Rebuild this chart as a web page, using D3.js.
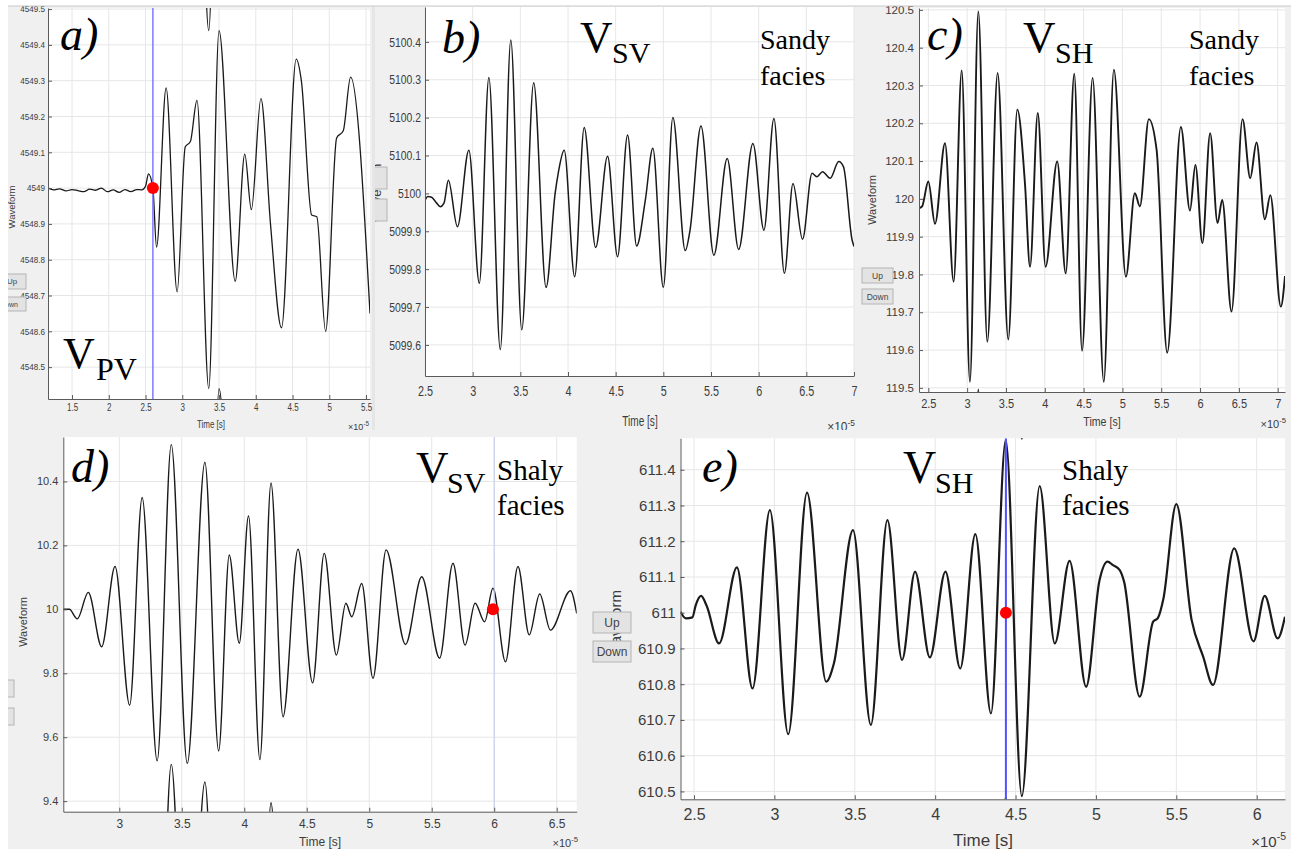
<!DOCTYPE html>
<html><head><meta charset="utf-8">
<script src="https://cdn.jsdelivr.net/npm/d3@7"></script>
<style>body{margin:0;background:#fff}svg{display:block}</style>
</head><body>
<script>
// ---------------- DATA ----------------
// panel a) V_PV
const timeA = [1.173,1.25,1.33,1.42,1.5,1.58,1.66,1.74,1.82,1.9,1.98,2.06,2.14,2.22,2.3,2.38,2.45,2.5,2.54,2.6,2.65,2.78,2.93,3.04,3.11,3.2,3.36,3.5,3.72,3.85,3.94,4.07,4.2,4.35,4.55,4.62,4.76,4.83,4.95,5.1,5.19,5.29,5.554];
const waveA = [4549.0,4548.995,4548.998,4548.992,4548.996,4548.993,4548.99,4548.997,4548.994,4549.0,4548.99,4548.995,4548.988,4548.996,4548.99,4548.996,4548.995,4549.005,4549.04,4549.0,4548.835,4549.28,4548.71,4549.115,4549.13,4549.245,4548.44,4549.44,4548.74,4549.095,4548.94,4549.25,4548.9,4548.61,4549.36,4549.3,4548.925,4548.92,4548.6,4549.14,4549.16,4549.31,4548.65];
const xTicksA = [1.5,2,2.5,3,3.5,4,4.5,5,5.5];
const yTicksA = [4548.5,4548.6,4548.7,4548.8,4548.9,4549,4549.1,4549.2,4549.3,4549.4,4549.5];
const xDomA = [1.173,5.554], yDomA = [4548.411,4549.503];
const cursorA = 2.6, markerA = [2.6,4549.0];
const ghostA = [-1, 1];

// panel b) V_SV sandy
const timeB = [2.5,2.53,2.57,2.62,2.66,2.7,2.745,2.84,2.96,3.07,3.17,3.29,3.40,3.515,3.64,3.77,3.865,3.9,3.96,4.07,4.17,4.29,4.415,4.52,4.625,4.72,4.81,4.89,5.0,5.1,5.23,5.28,5.395,5.53,5.67,5.79,5.94,6.055,6.16,6.27,6.36,6.46,6.56,6.61,6.67,6.75,6.84,6.89,6.98,7.0];
const waveB = [5099.982,5099.992,5099.99,5099.975,5099.965,5099.975,5100.035,5099.912,5100.114,5099.763,5100.306,5099.588,5100.405,5099.64,5100.292,5099.752,5100.0,5100.057,5100.114,5099.78,5100.174,5099.857,5100.098,5099.833,5100.154,5099.861,5099.98,5100.119,5099.752,5100.2,5099.849,5099.903,5100.178,5099.837,5100.092,5099.852,5100.132,5099.903,5100.198,5099.789,5100.026,5099.879,5100.053,5100.044,5100.057,5100.04,5100.084,5100.07,5099.877,5099.86];
const xTicksB = [2.5,3,3.5,4,4.5,5,5.5,6,6.5,7];
const yTicksB = [5099.6,5099.7,5099.8,5099.9,5100,5100.1,5100.2,5100.3,5100.4];
const xDomB = [2.5,7.0], yDomB = [5099.518,5100.492];
const ghostB = [];

// panel c) V_SH sandy
const timeC = [2.38,2.42,2.5,2.586,2.715,2.826,2.93,3.036,3.144,3.26,3.393,3.53,3.646,3.745,3.81,3.91,4.01,4.16,4.27,4.38,4.48,4.616,4.76,4.89,5.045,5.16,5.225,5.34,5.44,5.577,5.753,5.87,5.94,6.03,6.13,6.225,6.285,6.405,6.547,6.646,6.727,6.835,6.905,7.04,7.094];
const waveC = [119.975,119.98,120.046,119.934,120.147,119.781,120.34,119.516,120.496,119.622,120.333,119.628,120.236,120.04,119.82,120.227,119.82,120.099,119.803,120.331,119.598,120.32,119.516,120.342,119.794,120.015,119.98,120.211,120.13,119.593,120.19,119.969,120.09,119.883,120.174,119.936,119.997,119.702,120.211,120.055,120.149,119.946,120.01,119.715,119.796];
const xTicksC = [2.5,3,3.5,4,4.5,5,5.5,6,6.5,7];
const yTicksC = [119.5,119.6,119.7,119.8,119.9,120,120.1,120.2,120.3,120.4,120.5];
const xDomC = [2.38,7.094], yDomC = [119.489,120.505];
const ghostC = [-1, 1];

// panel d) V_SV shaly
const timeD = [2.552,2.6,2.664,2.752,2.859,2.966,3.083,3.183,3.303,3.416,3.544,3.685,3.795,3.88,3.96,4.034,4.125,4.214,4.31,4.43,4.547,4.64,4.737,4.813,4.86,4.94,5.03,5.135,5.29,5.42,5.563,5.67,5.767,5.847,5.923,5.99,6.09,6.19,6.28,6.364,6.45,6.61,6.66];
const waveD = [10.0,10.0,9.97,10.053,9.883,10.134,9.70,10.35,9.526,10.515,9.518,10.46,9.557,10.17,9.894,10.292,9.53,10.395,9.664,10.188,9.77,10.175,9.857,10.019,9.977,10.081,9.784,10.186,9.89,10.102,9.847,10.144,9.888,10.019,9.961,10.066,9.836,10.134,9.92,10.048,9.935,10.058,9.987];
const xTicksD = [3,3.5,4,4.5,5,5.5,6,6.5];
const yTicksD = [9.4,9.6,9.8,10,10.2,10.4];
const xDomD = [2.552,6.66], yDomD = [9.367,10.539];
const cursorD = 6.0, markerD = [5.99,10.0];
const ghostD = [-1];

// panel e) V_SH shaly
const timeE = [2.416,2.45,2.49,2.51,2.544,2.578,2.656,2.767,2.864,2.972,3.086,3.203,3.322,3.37,3.489,3.6,3.703,3.794,3.875,3.967,4.064,4.156,4.25,4.347,4.439,4.539,4.65,4.744,4.836,4.939,5.022,5.072,5.106,5.147,5.175,5.272,5.356,5.385,5.42,5.5,5.595,5.667,5.728,5.86,5.98,6.05,6.13,6.176];
const waveE = [611.003,610.984,610.987,611.02,611.047,611.02,610.914,611.127,610.788,611.287,610.66,611.336,610.807,610.858,611.231,610.686,611.259,610.868,611.115,610.875,611.115,610.844,611.22,610.718,611.483,610.487,611.354,610.914,611.145,610.793,611.09,611.143,611.133,611.12,611.087,610.765,610.975,610.985,611.04,611.304,610.98,610.877,610.798,611.18,610.92,611.047,610.928,610.989];
const xTicksE = [2.5,3,3.5,4,4.5,5,5.5,6];
const yTicksE = [610.5,610.6,610.7,610.8,610.9,611,611.1,611.2,611.3,611.4];
const xDomE = [2.416,6.176], yDomE = [610.478,611.488];
const cursorE = 4.44, markerE = [4.44,611.0];
const ghostE = [-1, 1];

// ---------------- DRAWING ----------------
const W = 1291, H = 849;
const svg = d3.select('body').append('svg').attr('width', W).attr('height', H);
svg.append('rect').attr('width', W).attr('height', H).attr('fill', '#fff');
const defs = svg.append('defs');
const SANS = 'Liberation Sans, Arial, sans-serif';
const SERIF = 'Liberation Serif, Times New Roman, serif';
const fmt = d => String(+(+d).toFixed(2));

function drawPanel(id, times, vals, xt, yt, xDom, yDom, ghosts, lay, st) {
  const g = svg.append('g');
  defs.append('clipPath').attr('id', 'bg' + id).append('rect')
    .attr('x', lay.bg[0]).attr('y', lay.bg[1]).attr('width', lay.bg[2]).attr('height', lay.bg[3]);
  const root = g.append('g').attr('clip-path', `url(#bg${id})`);
  root.append('rect').attr('x', lay.bg[0]).attr('y', lay.bg[1]).attr('width', lay.bg[2]).attr('height', lay.bg[3]).attr('fill', '#f0f0f0');
  if (lay.band) root.append('rect').attr('x', lay.band[0]).attr('y', lay.bg[1]).attr('width', lay.band[1]).attr('height', lay.bg[3]).attr('fill', '#e6e6e6');
  const x = d3.scaleLinear().domain(xDom).range([lay.L, lay.R]);
  const y = d3.scaleLinear().domain(yDom).range([lay.B, lay.T]);
  root.append('rect').attr('x', lay.L).attr('y', lay.T).attr('width', lay.R - lay.L).attr('height', lay.B - lay.T).attr('fill', '#fff');
  const grid = root.append('g').attr('stroke', '#e6e6e6').attr('stroke-width', 1);
  xt.filter(t => t >= xDom[0] && t <= xDom[1]).forEach(t => grid.append('line').attr('x1', x(t)).attr('x2', x(t)).attr('y1', lay.T).attr('y2', lay.B));
  yt.filter(v => v >= yDom[0] && v <= yDom[1]).forEach(v => grid.append('line').attr('y1', y(v)).attr('y2', y(v)).attr('x1', lay.L).attr('x2', lay.R));
  defs.append('clipPath').attr('id', 'pl' + id).append('rect')
    .attr('x', lay.L).attr('y', lay.T).attr('width', lay.R - lay.L).attr('height', lay.B - lay.T);
  const plot = root.append('g').attr('clip-path', `url(#pl${id})`);
  const pts = times.map((t, i) => [t, vals[i]]);
  const line = d3.line().x(d => x(d[0])).y(d => y(d[1])).curve(d3.curveMonotoneX);
  ghosts.forEach(o => {
    plot.append('path').attr('d', line(pts.map(p => [p[0], p[1] + o])))
      .attr('fill', 'none').attr('stroke', '#1a1a1a').attr('stroke-width', st.lw);
  });
  plot.append('path').attr('d', line(pts)).attr('fill', 'none').attr('stroke', '#1a1a1a')
    .attr('stroke-width', st.lw).attr('stroke-linejoin', 'round');
  if (st.cursor !== undefined) {
    plot.append('line').attr('x1', x(st.cursor)).attr('x2', x(st.cursor)).attr('y1', lay.T).attr('y2', lay.B)
      .attr('stroke', st.cursorColor).attr('stroke-width', st.cursorW);
  }
  if (st.marker) {
    root.append('circle').attr('cx', x(st.marker[0])).attr('cy', y(st.marker[1])).attr('r', 6).attr('fill', '#ff0000');
  }
  const ax = d3.axisBottom(x).tickValues(xt.filter(t => t >= xDom[0] - 1e-9 && t <= xDom[1] + 1e-9))
    .tickSizeInner(-4).tickSizeOuter(0).tickPadding(st.xPad).tickFormat(fmt);
  root.append('g').attr('transform', `translate(0,${lay.B})`).call(ax).call(s => {
    s.select('.domain').attr('stroke', '#5a5a5a');
    s.selectAll('.tick line').attr('stroke', '#5a5a5a');
    s.selectAll('text').attr('font-size', st.xFont).attr('font-family', SANS).attr('fill', '#3c3c3c')
      .attr('transform', `scale(${st.xSx},1)`);
  });
  const ay = d3.axisLeft(y).tickValues(yt).tickSizeInner(-4).tickSizeOuter(0)
    .tickPadding(st.yPad / st.ySx).tickFormat(fmt);
  root.append('g').attr('transform', `translate(${lay.L},0)`).call(ay).call(s => {
    s.select('.domain').attr('stroke', '#5a5a5a');
    s.selectAll('.tick line').attr('stroke', '#5a5a5a');
    s.selectAll('text').attr('font-size', st.yFont).attr('font-family', SANS).attr('fill', '#3c3c3c')
      .attr('transform', `scale(${st.ySx},1)`);
  });
  root.append('text').attr('x', lay.tx[0]).attr('y', lay.tx[1]).attr('text-anchor', 'middle')
    .attr('font-family', SANS).attr('font-size', st.tFont).attr('fill', '#3c3c3c')
    .attr('transform', `translate(${lay.tx[0]},0) scale(${st.xSx},1) translate(${-lay.tx[0]},0)`)
    .text('Time [s]');
  const ex = root.append('text').attr('x', lay.ex[0]).attr('y', lay.ex[1]).attr('text-anchor', 'end')
    .attr('font-family', SANS).attr('font-size', st.eFont).attr('fill', '#3c3c3c');
  ex.append('tspan').text('×10');
  ex.append('tspan').attr('dy', -st.eFont * 0.45).attr('font-size', st.eFont * 0.7).text('-5');
  root.append('text').attr('transform', `translate(${lay.wl[0]},${lay.wl[1]}) rotate(-90)`)
    .attr('text-anchor', 'middle').attr('font-family', SANS).attr('font-size', st.wFont).attr('fill', '#3c3c3c')
    .text('Waveform');
  return root;
}

function button(g, x0, y0, w, h, txt, fs, tx) {
  g.append('rect').attr('x', x0).attr('y', y0).attr('width', w).attr('height', h)
    .attr('fill', '#e3e3e3').attr('stroke', '#b4b4b4').attr('stroke-width', 1);
  if (txt) g.append('text').attr('x', tx !== undefined ? tx : x0 + w / 2).attr('y', y0 + h / 2 + fs * 0.36)
    .attr('text-anchor', 'middle').attr('font-family', SANS).attr('font-size', fs).attr('fill', '#444').text(txt);
}
function serif(g, txt, x, y, fs, italic) {
  g.append('text').attr('x', x).attr('y', y).attr('font-family', SERIF).attr('font-size', fs)
    .attr('font-style', italic ? 'italic' : 'normal').attr('fill', '#000').text(txt);
}

// a)
const gA = drawPanel('A', timeA, waveA, xTicksA, yTicksA, xDomA, yDomA, ghostA,
  {bg: [8, 6, 367, 424], band: [372, 3], L: 48, R: 370, T: 8, B: 399, tx: [211, 428], ex: [369, 430], wl: [15, 207]},
  {lw: 1.3, xFont: 10, xSx: 0.8, xPad: 5, yFont: 8.5, ySx: 0.95, yPad: 3, tFont: 10, eFont: 9, wFont: 9.5,
   cursor: cursorA, cursorColor: '#7b7bff', cursorW: 1.5, marker: markerA});
button(gA, 0, 274, 26, 15, 'Up', 8, 12);
button(gA, 0, 297, 26, 14, 'Down', 7, 9);
serif(gA, 'a)', 60, 50, 46, true);
serif(gA, 'V', 63, 368, 44, false);
serif(gA, 'PV', 96, 380, 32, false);

// b)
const gB = drawPanel('B', timeB, waveB, xTicksB, yTicksB, xDomB, yDomB, ghostB,
  {bg: [375, 6, 483, 431], L: 425, R: 854, T: 7, B: 376, tx: [640, 426], ex: [855, 431], wl: [381, 193]},
  {lw: 1.5, xFont: 15, xSx: 0.72, xPad: 9, yFont: 13, ySx: 0.8, yPad: 4, tFont: 14, eFont: 12, wFont: 13});
button(gB, 368, 167, 19, 22, '', 8);
button(gB, 368, 199, 19, 22, '', 8);
serif(gB, 'b)', 442, 53, 46, true);
serif(gB, 'V', 580, 52, 45, false);
serif(gB, 'SV', 612, 63, 30, false);
serif(gB, 'Sandy', 760, 49, 28, false);
serif(gB, 'facies', 760, 85, 28, false);

// c)
const gC = drawPanel('C', timeC, waveC, xTicksC, yTicksC, xDomC, yDomC, ghostC,
  {bg: [858, 6, 433, 431], L: 919, R: 1285, T: 8, B: 392, tx: [1102, 426], ex: [1286, 428], wl: [876, 200]},
  {lw: 1.9, xFont: 13, xSx: 0.85, xPad: 7, yFont: 11.5, ySx: 1, yPad: 5, tFont: 12.5, eFont: 11, wFont: 11});
button(gC, 862, 268, 31, 15, 'Up', 8.5);
button(gC, 862, 289, 31, 15, 'Down', 8.5);
serif(gC, 'c)', 927, 50, 46, true);
serif(gC, 'V', 1023, 52, 45, false);
serif(gC, 'SH', 1055, 63, 30, false);
serif(gC, 'Sandy', 1189, 49, 28, false);
serif(gC, 'facies', 1189, 85, 28, false);

// d)
const gD = drawPanel('D', timeD, waveD, xTicksD, yTicksD, xDomD, yDomD, ghostD,
  {bg: [8, 430, 577, 419], L: 63.3, R: 576.7, T: 437, B: 811.7, tx: [320, 846], ex: [578, 847], wl: [27, 622]},
  {lw: 1.4, xFont: 12, xSx: 1, xPad: 8, yFont: 11, ySx: 1, yPad: 5, tFont: 12, eFont: 11, wFont: 11,
   cursor: cursorD, cursorColor: '#c3cde8', cursorW: 1, marker: markerD});
button(gD, 3, 680, 11, 17, '', 8);
button(gD, 3, 708, 11, 17, '', 8);
serif(gD, 'd)', 71, 482, 46, true);
serif(gD, 'V', 416, 482, 45, false);
serif(gD, 'SV', 447, 493, 30, false);
serif(gD, 'Shaly', 497, 480, 29, false);
serif(gD, 'facies', 497, 515, 29, false);

// e)
const gE = drawPanel('E', timeE, waveE, xTicksE, yTicksE, xDomE, yDomE, ghostE,
  {bg: [585, 430, 706, 419], L: 680.5, R: 1285, T: 438.3, B: 799.3, tx: [983, 846], ex: [1286, 847], wl: [621, 624]},
  {lw: 2.2, xFont: 16, xSx: 1, xPad: 9, yFont: 15, ySx: 1, yPad: 5, tFont: 17, eFont: 15, wFont: 15,
   cursor: cursorE, cursorColor: '#5050ff', cursorW: 2, marker: markerE});
button(gE, 593, 612, 38, 21, 'Up', 12);
button(gE, 593, 641, 38, 21, 'Down', 12);
serif(gE, 'e)', 702, 482, 46, true);
serif(gE, 'V', 903, 483, 46, false);
serif(gE, 'SH', 935, 493, 30, false);
serif(gE, 'Shaly', 1062, 480, 29, false);
serif(gE, 'facies', 1062, 515, 29, false);

svg.append('line').attr('x1', 8).attr('x2', 1291).attr('y1', 6).attr('y2', 6).attr('stroke', '#c8c8c8');
</script>
</body></html>
